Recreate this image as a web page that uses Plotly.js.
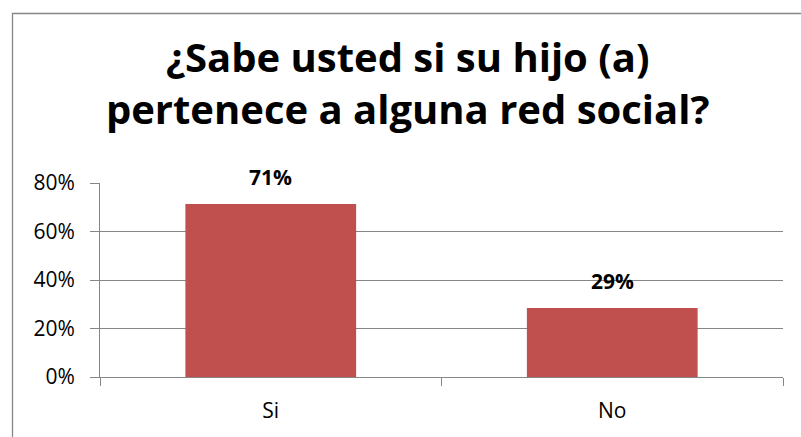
<!DOCTYPE html>
<html>
<head>
<meta charset="utf-8">
<script src="https://cdn.plot.ly/plotly-3.0.1.min.js"></script>
<style>
html,body{margin:0;padding:0;background:#fff;}
#chart{width:801px;height:437px;}
</style>
</head>
<body>
<div id="chart"></div>
<script>
const categories = ["Si", "No"];
const values = [71.3, 28.5];
const valueLabels = ["71%", "29%"];
const yTickValues = [0, 20, 40, 60, 80];
const yTickLabels = ["0%", "20%", "40%", "60%", "80%"];
const titleText = "¿Sabe usted si su hijo (a)<br>pertenece a alguna red social?";

const W = 801, H = 437;
const M = {l: 100, r: 18, t: 183, b: 60};
const pw = W - M.l - M.r, ph = H - M.t - M.b;
const px = x => (x - M.l) / pw;
const py = y => (H - M.b - y) / ph;

const font = "'Open Sans', sans-serif";
const gridColor = "#868686";

const trace = {
  type: "bar",
  x: categories,
  y: values,
  width: 0.5,
  marker: {color: "#C0504D", line: {width: 0}},
  hoverinfo: "none"
};

const annotations = categories.map((c, i) => ({
  x: c, y: values[i], xref: "x", yref: "y",
  text: "<b>" + valueLabels[i] + "</b>",
  showarrow: false, yanchor: "middle", yshift: 27,
  font: {family: font, size: 21, color: "#000"}
}));

const layout = {
  width: W, height: H,
  margin: M,
  paper_bgcolor: "#fff", plot_bgcolor: "#fff",
  showlegend: false,
  title: {
    text: "<b>" + titleText + "</b>",
    font: {family: font, size: 40, color: "#000"},
    x: 0.509, xref: "container", xanchor: "center",
    y: 1 - 72 / 437, yref: "container", yanchor: "top"
  },
  xaxis: {
    type: "category",
    showgrid: false,
    showline: true, linecolor: gridColor, linewidth: 1,
    ticks: "outside", tickson: "boundaries", ticklen: 8, tickcolor: gridColor,
    tickfont: {family: font, size: 21, color: "#000"},
    ticklabelstandoff: 15,
    fixedrange: true
  },
  yaxis: {
    range: [0, 80],
    tickvals: yTickValues, ticktext: yTickLabels,
    showgrid: true, gridcolor: gridColor, gridwidth: 1,
    showline: true, linecolor: gridColor, linewidth: 1,
    ticks: "outside", ticklen: 9, tickcolor: gridColor,
    tickfont: {family: font, size: 21, color: "#000"},
    ticklabelstandoff: 11,
    zeroline: false,
    fixedrange: true
  },
  annotations: annotations,
  shapes: [{
    type: "rect", xref: "paper", yref: "paper",
    x0: px(12.5), x1: px(W + 10), y0: py(H + 10), y1: py(13.5),
    line: {color: "#868686", width: 1.3}, fillcolor: "rgba(0,0,0,0)",
    layer: "below"
  }]
};

Plotly.newPlot("chart", [trace], layout, {displayModeBar: false, staticPlot: true});
</script>
</body>
</html>
